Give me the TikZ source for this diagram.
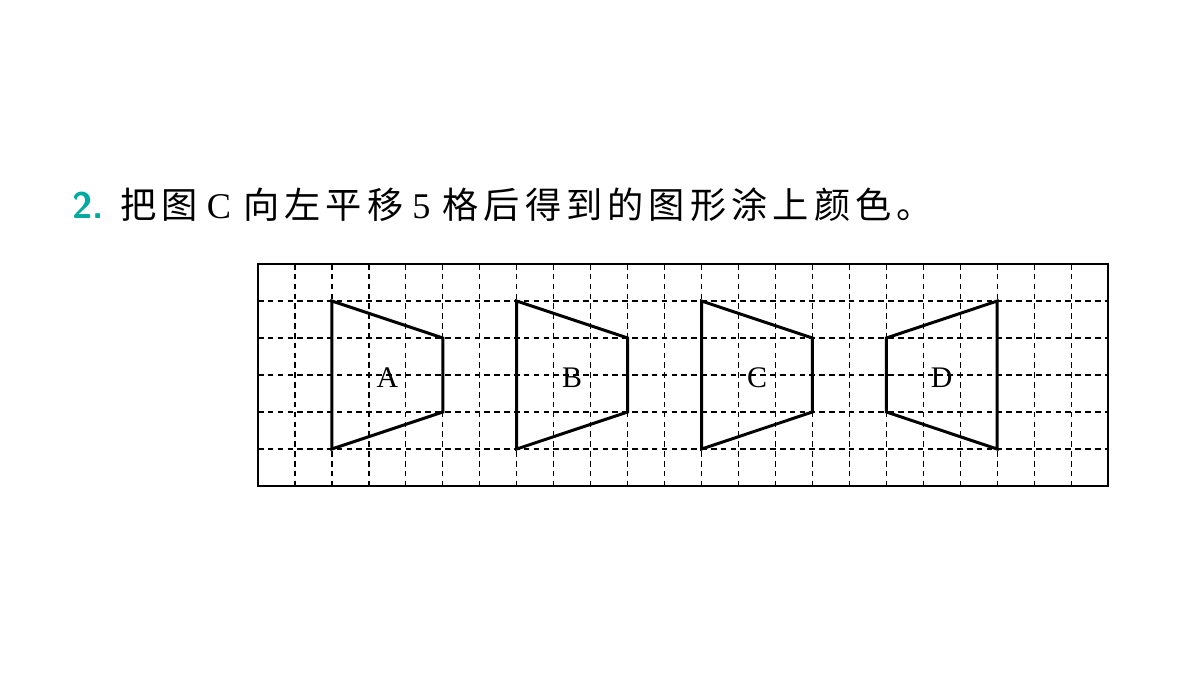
\documentclass[tikz,border=0pt]{standalone}
\usepackage{fontspec}
\newfontfamily\cjk[LetterSpace=14]{Noto Sans CJK SC}
\setmainfont{Liberation Serif}
\definecolor{teal2}{RGB}{0,170,160}
\begin{document}
\begin{tikzpicture}[x=0.01cm,y=-0.01cm,
  grid/.style={black,line width=0.35pt,dash pattern=on 1.6pt off 1.2pt},
  trap/.style={black,line width=0.85pt},
  lab/.style={font=\fontsize{8.5}{8.5}\selectfont}]
\useasboundingbox (0,0) rectangle (1200,675);
\node[anchor=west,font=\fontsize{10.5}{10}\selectfont\sffamily\bfseries,text=teal2] (n) at (60,205) {2.};
\node[anchor=west,font=\fontsize{10.3}{10}\selectfont] (t) at (108,205) {{\cjk 把图} C\,\,{\cjk 向左平移} 5\,\,{\cjk 格后得到的图形涂上颜色。}};
\foreach \i in {1,...,22} \draw[grid] (258+\i*36.96,264) -- (258+\i*36.96,486);
\foreach \j in {1,...,5} \draw[grid] (258,264+\j*37) -- (1108,264+\j*37);
\draw[line width=0.5pt] (258,264) rectangle (1108,486);
\def\cx{36.96}
\foreach \o/\L in {2/A,7/B,12/C} {
  \draw[trap] (258+\o*\cx,301) -- (258+\o*\cx+3*\cx,338) -- (258+\o*\cx+3*\cx,412) -- (258+\o*\cx,449) -- cycle;
  \node[lab] (l\L) at (258+\o*\cx+1.5*\cx,378) {\L};
}
\draw[trap] (258+20*\cx,301) -- (258+17*\cx,338) -- (258+17*\cx,412) -- (258+20*\cx,449) -- cycle;
\node[lab] (lD) at (258+18.5*\cx,378) {D};
\end{tikzpicture}
\end{document}
